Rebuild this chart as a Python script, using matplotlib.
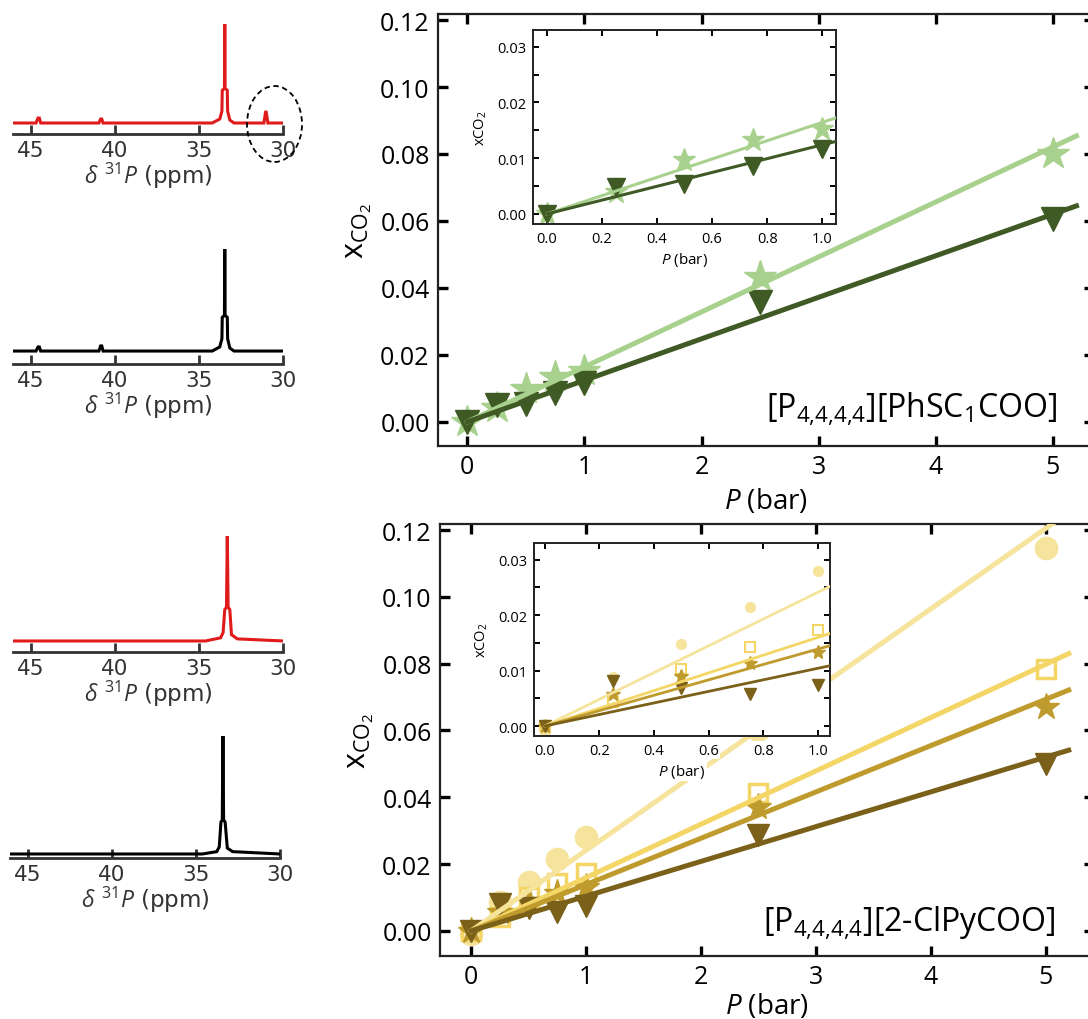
import matplotlib
matplotlib.use('Agg')
import matplotlib.pyplot as plt
from matplotlib.patches import Ellipse
from matplotlib.ticker import MultipleLocator

W, H = 1088, 1020
plt.rcParams['font.family'] = ['Open Sans', 'DejaVu Sans']
plt.rcParams['mathtext.fontset'] = 'custom'
plt.rcParams['mathtext.rm'] = 'Open Sans'
plt.rcParams['mathtext.it'] = 'Open Sans:italic'
plt.rcParams['mathtext.bf'] = 'Open Sans:bold'

# ---------------- data ----------------
P = [0, 0.25, 0.5, 0.75, 1.0, 2.5, 5.0]

# [P4444][PhSC1COO]
phs_star = [0.000, 0.0040, 0.0097, 0.0133, 0.0153, 0.0433, 0.0800]
phs_tri = [0.000, 0.0049, 0.0054, 0.0086, 0.0116, 0.0358, 0.0606]
phs_fit_P = [0, 5.2]
phs_star_fit = [0, 0.0854]
phs_tri_fit = [0, 0.0645]

# [P4444][2-ClPyCOO]
clpy_circle = [-0.001, 0.0088, 0.0147, 0.0215, 0.0280, 0.0600, 0.1145]
clpy_square = [0.000, 0.0043, 0.0102, 0.0142, 0.0174, 0.0412, 0.0783]
clpy_star = [0.000, 0.0058, 0.0090, 0.0113, 0.0133, 0.0372, 0.0670]
clpy_tri = [0.000, 0.0082, 0.0068, 0.0058, 0.0074, 0.0287, 0.0500]
clpy_fit_P = [0, 5.2]
clpy_circle_fit = [0, 0.1253]
clpy_square_fit = [0, 0.0830]
clpy_star_fit = [0, 0.0721]
clpy_tri_fit = [0, 0.0541]

main_xticks = [0, 1, 2, 3, 4, 5]
main_yticks = [0.00, 0.02, 0.04, 0.06, 0.08, 0.10, 0.12]
inset_xticks = [0.0, 0.2, 0.4, 0.6, 0.8, 1.0]
inset_yticks = [0.00, 0.01, 0.02, 0.03]

# 31P NMR spectra (ppm, normalised intensity)
nmr1_ppm = [46.1, 44.7, 44.58, 44.5, 44.42, 40.95, 40.85, 40.78, 40.7, 34.2, 33.75, 33.62, 33.6,
            33.47, 33.45, 33.43, 33.3, 33.28, 33.15, 32.9, 31.12, 31.02, 30.98, 30.88, 29.98]
nmr1_int = [0, 0, 0.05, 0.05, 0, 0, 0.04, 0.04, 0, 0, 0.04, 0.12, 0.33,
            0.35, 1.0, 0.35, 0.33, 0.12, 0.03, 0, 0, 0.11, 0.11, 0, 0]
nmr2_ppm = [46.1, 44.7, 44.58, 44.5, 44.42, 40.95, 40.85, 40.78, 40.7, 34.2, 33.75, 33.62, 33.6,
            33.47, 33.45, 33.43, 33.3, 33.28, 33.15, 32.9, 29.98]
nmr2_int = [0, 0, 0.04, 0.04, 0, 0, 0.05, 0.05, 0, 0, 0.04, 0.12, 0.33,
            0.35, 1.0, 0.35, 0.33, 0.12, 0.03, 0, 0]
nmr3_ppm = [46.1, 34.6, 33.7, 33.55, 33.45, 33.35, 33.3, 33.25, 33.15, 33.05, 32.7, 29.98]
nmr3_int = [0, 0, 0.03, 0.08, 0.3, 0.32, 1.0, 0.32, 0.3, 0.06, 0.02, 0]
nmr4_ppm = [46.1, 34.6, 33.75, 33.6, 33.5, 33.42, 33.38, 33.34, 33.25, 33.12, 32.8, 29.98]
nmr4_int = [0, 0, 0.02, 0.06, 0.27, 0.29, 1.0, 0.29, 0.27, 0.05, 0.02, 0]
nmr_ticks = [45, 40, 35, 30]

# ---------------- colours ----------------
c_light_green = '#a9d18e'
c_dark_green = '#3f5a25'
c_circle = '#f6e39c'
c_square = '#f4d667'
c_star = '#bf9a2c'
c_tri = '#7a6018'

fig = plt.figure(figsize=(W / 100, H / 100), dpi=100)


def add_ax(l, t, r, b):
    return fig.add_axes([l / W, 1 - b / H, (r - l) / W, (b - t) / H])


def style_main(ax, xlabelpad):
    for s in ax.spines.values():
        s.set_linewidth(1.6)
        s.set_color('#222222')
    ax.tick_params(direction='in', top=True, right=True, length=7, width=2.4,
                   labelsize=18, pad=6, colors='black')
    ax.set_xticks(main_xticks)
    ax.set_yticks(main_yticks)
    ax.set_yticklabels([f'{v:.2f}' for v in main_yticks])
    ax.set_ylabel(r'$\mathregular{x_{CO_2}}$', fontsize=22, labelpad=4)
    ax.set_xlabel(r'$\mathit{P}$ (bar)', fontsize=20, labelpad=xlabelpad)


def style_inset(ax):
    for s in ax.spines.values():
        s.set_linewidth(1.4)
        s.set_color('#222222')
    ax.tick_params(which='both', direction='in', top=True, right=True, length=4.5, width=1.4,
                   labelsize=10.5, pad=5)
    ax.set_xticks(inset_xticks)
    ax.set_yticks(inset_yticks)
    ax.set_xticklabels([f'{v:.1f}' for v in inset_xticks])
    ax.set_yticklabels([f'{v:.2f}' for v in inset_yticks])
    ax.yaxis.set_minor_locator(MultipleLocator(0.005))
    ax.set_xlim(-0.05, 1.05)
    ax.set_ylim(-0.0018, 0.033)
    ax.set_ylabel(r'xCO$_2$', fontsize=10.5, labelpad=6)
    ax.set_xlabel(r'$\mathit{P}$ (bar)', fontsize=11, labelpad=3)


# ---------------- top main ----------------
ax1 = add_ax(438, 15, 1094, 447)
ax1.plot(P, phs_star, linestyle='none', marker='*', ms=24, color=c_light_green, zorder=2)
ax1.plot(P, phs_tri, linestyle='none', marker='v', ms=17, color=c_dark_green, zorder=2)
ax1.plot(phs_fit_P, phs_star_fit, color=c_light_green, lw=3.6, zorder=3)
ax1.plot(phs_fit_P, phs_tri_fit, color=c_dark_green, lw=3.6, zorder=3)
ax1.set_xlim(-0.25, 5.35)
ax1.set_ylim(-0.0072, 0.1218)
style_main(ax1, 5)
fig.text(1057 / W, 1 - 418 / H, r'$\mathregular{[P_{4{,}4{,}4{,}4}][PhSC_1COO]}$', fontsize=23,
         ha='right', va='baseline')

# top inset
ia1 = add_ax(533, 31, 836, 225)
ia1.set_facecolor('white')
ia1.plot(P, phs_star, linestyle='none', marker='*', ms=17, color=c_light_green, zorder=2)
ia1.plot(P, phs_tri, linestyle='none', marker='v', ms=13, color=c_dark_green, zorder=2)
ia1.plot(phs_fit_P, phs_star_fit, color=c_light_green, lw=2.2, zorder=3)
ia1.plot(phs_fit_P, phs_tri_fit, color=c_dark_green, lw=2.2, zorder=3)
style_inset(ia1)

# ---------------- bottom main ----------------
ax2 = add_ax(440, 525, 1094, 957)
ax2.plot(P, clpy_circle, linestyle='none', marker='o', ms=16, color=c_circle, zorder=2)
ax2.plot(P, clpy_square, linestyle='none', marker='s', ms=13, mfc='white', mec=c_square, mew=2.5, zorder=2)
ax2.plot(P, clpy_star, linestyle='none', marker='*', ms=20, color=c_star, zorder=2)
ax2.plot(P, clpy_tri, linestyle='none', marker='v', ms=16, color=c_tri, zorder=2)
ax2.plot(clpy_fit_P, clpy_circle_fit, color=c_circle, lw=3.6, zorder=3)
ax2.plot(clpy_fit_P, clpy_square_fit, color=c_square, lw=3.6, zorder=3)
ax2.plot(clpy_fit_P, clpy_star_fit, color=c_star, lw=3.6, zorder=3)
ax2.plot(clpy_fit_P, clpy_tri_fit, color=c_tri, lw=3.6, zorder=3)
ax2.set_xlim(-0.27, 5.42)
ax2.set_ylim(-0.0075, 0.1218)
style_main(ax2, 1)
fig.text(1055 / W, 1 - 932 / H, r'$\mathregular{[P_{4{,}4{,}4{,}4}][2\text{-}ClPyCOO]}$', fontsize=23,
         ha='right', va='baseline')

# bottom inset
ia2 = add_ax(534, 544, 830, 737)
ia2.set_facecolor('white')
ia2.plot(P, clpy_circle, linestyle='none', marker='o', ms=7, color=c_circle, zorder=2)
ia2.plot(P, clpy_square, linestyle='none', marker='s', ms=7, mfc='white', mec=c_square, mew=1.5, zorder=2)
ia2.plot(P, clpy_star, linestyle='none', marker='*', ms=10, color=c_star, zorder=2)
ia2.plot(P, clpy_tri, linestyle='none', marker='v', ms=9, color=c_tri, zorder=2)
ia2.plot(clpy_fit_P, clpy_circle_fit, color=c_circle, lw=2.0, zorder=3)
ia2.plot(clpy_fit_P, clpy_square_fit, color=c_square, lw=2.0, zorder=3)
ia2.plot(clpy_fit_P, clpy_star_fit, color=c_star, lw=2.0, zorder=3)
ia2.plot(clpy_fit_P, clpy_tri_fit, color=c_tri, lw=2.0, zorder=3)
style_inset(ia2)
ia2.set_xlim(-0.04, 1.045)
for t in ia2.get_xticklabels() + [ia2.xaxis.label]:
    t.set_bbox(dict(facecolor='white', edgecolor='none', pad=1))

# ---------------- NMR panels ----------------
nmr_specs = [
    ((13, 25, 283, 135), -0.111, nmr1_ppm, nmr1_int, '#e01b1b'),
    ((13, 250, 283, 365), -0.127, nmr2_ppm, nmr2_int, 'black'),
    ((13, 537, 283, 653), -0.105, nmr3_ppm, nmr3_int, '#e01b1b'),
    ((10, 737, 280, 859), -0.034, nmr4_ppm, nmr4_int, 'black'),
]
nmr_axes = []
for (box, ylo, xs, ys, col) in nmr_specs:
    a = add_ax(*box)
    a.set_facecolor('none')
    a.plot(xs, ys, color=col, lw=2.2, solid_joinstyle='miter')
    a.set_xlim(46.07, 29.98)
    a.set_ylim(ylo, 1.0)
    for k in ('top', 'left', 'right'):
        a.spines[k].set_visible(False)
    a.spines['bottom'].set_linewidth(2.0)
    a.spines['bottom'].set_color('#333333')
    a.set_yticks([])
    a.set_xticks(nmr_ticks)
    a.tick_params(axis='x', direction='in', length=6.5, width=2.0, labelsize=15.5, pad=4,
                  colors='#333333', labelfontfamily='DejaVu Sans')
    a.set_xlabel(r'$\delta$ $^{31}\mathit{P}$ (ppm)', fontsize=16.5, labelpad=0,
                 color='#333333', fontfamily='DejaVu Sans')
    nmr_axes.append(a)

fig.patches.append(Ellipse((274.5 / W, 1 - 125 / H), 55 / W, 76 / H, transform=fig.transFigure,
                           fill=False, edgecolor='black', linestyle=(0, (3, 2)), linewidth=1.3))

fig.savefig('out.png', dpi=100)
